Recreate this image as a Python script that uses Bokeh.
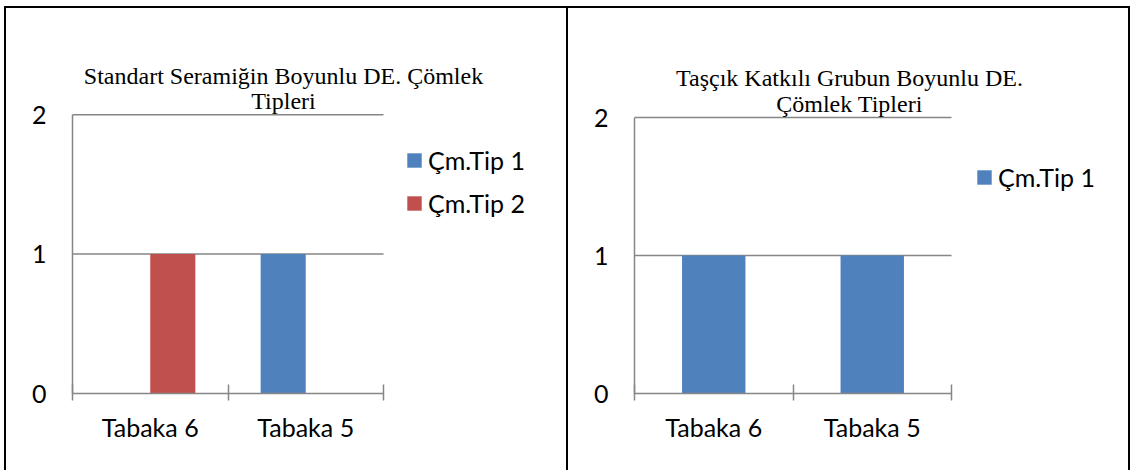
from bokeh.plotting import figure
from bokeh.models import (Range1d, FixedTicker, Legend, LegendItem, Label,
                          ColumnDataSource)
from bokeh.layouts import row
from bokeh.embed import file_html
from bokeh.resources import INLINE

# ---------------- data ----------------
categories = ["Tabaka 6", "Tabaka 5"]
y_ticks = [0, 1, 2]

left_title = ["Standart Seramiğin Boyunlu DE. Çömlek", "Tipleri"]
left_series = ["Çm.Tip 1", "Çm.Tip 2"]
left_tip1 = [0, 1]
left_tip2 = [1, 0]

right_title = ["Taşçık Katkılı Grubun Boyunlu DE.", "Çömlek Tipleri"]
right_series = ["Çm.Tip 1"]
right_tip1 = [1, 1]

# ---------------- style ----------------
BLUE = "#4F81BD"
RED = "#C0504D"
GRAY = "#868686"
SANS = "Lato"
SERIF = "Liberation Serif"
H = 470


def make_panel(width, ax_left, ax_right, ax_top, ax_bottom):
    """ax_* : pixel box of the plotting area (0..n, 0..ymax).
    The frame extends to the top/right canvas edge so that title and
    legend (drawn inside the frame) are not clipped."""
    n = len(categories)
    ymax = max(y_ticks)
    x_end = n * (width - ax_left) / (ax_right - ax_left)
    y_end = ymax * ax_bottom / (ax_bottom - ax_top)
    p = figure(width=width, height=H, output_backend="svg", toolbar_location=None,
               title=None, tools="",
               x_range=Range1d(0, x_end), y_range=Range1d(0, y_end),
               min_border_left=ax_left, min_border_right=0,
               min_border_top=0, min_border_bottom=H - ax_bottom)
    p.outline_line_color = None
    p.background_fill_color = None
    p.border_fill_color = None
    p.grid.visible = False

    centers = [i + 0.5 for i in range(n)]
    xa = p.xaxis[0]
    xa.bounds = (0, n)
    xa.ticker = FixedTicker(ticks=centers, minor_ticks=list(range(n + 1)))
    xa.major_label_overrides = {c: name for c, name in zip(centers, categories)}
    xa.axis_line_color = GRAY
    xa.axis_line_width = 1.5
    xa.major_tick_in = 0
    xa.major_tick_out = 0
    xa.minor_tick_in = 9
    xa.minor_tick_out = 7
    xa.minor_tick_line_color = GRAY
    xa.minor_tick_line_width = 1.5
    xa.major_label_standoff = 11
    xa.major_label_text_font = SANS
    xa.major_label_text_font_size = "25px"
    xa.major_label_text_color = "black"

    ya = p.yaxis[0]
    ya.bounds = (0, ymax)
    ya.ticker = FixedTicker(ticks=y_ticks, minor_ticks=[])
    ya.axis_line_color = GRAY
    ya.axis_line_width = 1.5
    ya.major_tick_in = 0
    ya.major_tick_out = 0
    ya.minor_tick_in = 0
    ya.minor_tick_out = 0
    ya.major_label_standoff = 26
    ya.major_label_text_font = SANS
    ya.major_label_text_font_size = "25px"
    ya.major_label_text_color = "black"

    # horizontal gridlines, limited to the category span
    gy = [t for t in y_ticks if t > 0]
    p.segment(x0=[0] * len(gy), x1=[n] * len(gy), y0=gy, y1=gy,
              line_color=GRAY, line_width=1.5)
    return p, centers


def add_title(p, lines, cx, baselines):
    for txt, by in zip(lines, baselines):
        p.add_layout(Label(x=cx, y=by, x_units="screen", y_units="screen", text=txt,
                           text_align="center", text_baseline="alphabetic",
                           text_font=SERIF, text_font_size="24px", text_color="black"))


def add_legend(p, items, loc):
    lg = Legend(items=items, location=loc, orientation="vertical",
                glyph_width=18, glyph_height=18, label_standoff=5, spacing=13,
                padding=0, margin=0, border_line_color=None, background_fill_alpha=0,
                label_text_font=SANS, label_text_font_size="25px", label_text_color="black")
    p.add_layout(lg)


# ---------------- left panel ----------------
W1 = 568
p1, c1 = make_panel(W1, 72, 383, 115, 396)
bw1 = 0.29
s1 = ColumnDataSource(data=dict(x=[c - bw1 / 2 for c in c1], top=left_tip1))
s2 = ColumnDataSource(data=dict(x=[c + bw1 / 2 for c in c1], top=left_tip2))
r1 = p1.vbar(x="x", top="top", width=bw1, source=s1, fill_color=BLUE, line_color=None)
r2 = p1.vbar(x="x", top="top", width=bw1, source=s2, fill_color=RED, line_color=None)
add_title(p1, left_title, 211, [318, 293])
add_legend(p1, [LegendItem(label=left_series[0], renderers=[r1]),
                LegendItem(label=left_series[1], renderers=[r2])], (333, 175))
p1.styles = {"box-shadow": "inset 4px 0 0 0 #fff, inset 0 6px 0 0 #fff, "
                           "inset 6px 0 0 0 #000, inset 0 8px 0 0 #000, "
                           "inset -2px 0 0 0 #000"}

# ---------------- right panel ----------------
W2 = 562
p2, c2 = make_panel(W2, 66, 383, 117, 393)
bw2 = 0.4
s3 = ColumnDataSource(data=dict(x=c2, top=right_tip1))
r3 = p2.vbar(x="x", top="top", width=bw2, source=s3, fill_color=BLUE, line_color=None)
add_title(p2, right_title, 215, [315.5, 290])
add_legend(p2, [LegendItem(label=right_series[0], renderers=[r3])], (341, 201))
p2.styles = {"box-shadow": "inset 0 6px 0 0 #fff, inset 0 8px 0 0 #000, "
                           "inset -2px 0 0 0 #000"}

layout = row(p1, p2)
open("out.html", "w").write(file_html(layout, INLINE))
